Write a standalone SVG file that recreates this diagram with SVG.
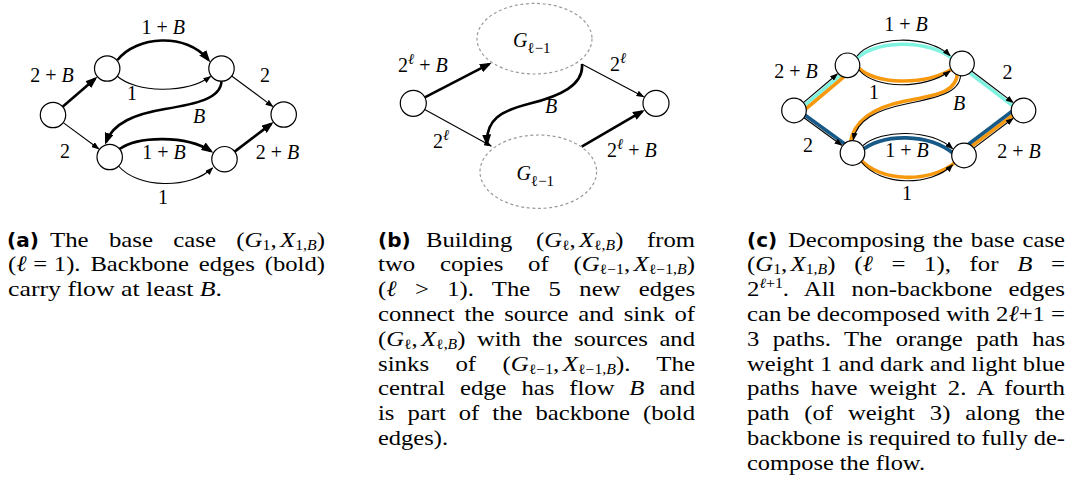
<svg xmlns="http://www.w3.org/2000/svg" width="1075" height="485" viewBox="0 0 1075 485">
<style>
.node{fill:#fff;stroke:#000;stroke-width:1.2}
.e{fill:none;stroke:#000;stroke-width:1.1}
.eb{fill:none;stroke:#000;stroke-width:2.6}
.ell{fill:none;stroke:#9a9a9a;stroke-width:1.2;stroke-dasharray:3 2.6}
.hl{fill:none;stroke-width:3.6}
.cy{stroke:#7ff2e0}
.or{stroke:#f7990f}
.db{stroke:#175a87}
.lbl{font-family:"Liberation Serif","Times New Roman",serif;font-size:20px;fill:#000}
.cap{font-family:"Liberation Serif","Times New Roman",serif;font-size:22px;fill:#000}
.tag{font-family:"DejaVu Sans",sans-serif;font-size:20px;font-weight:bold;fill:#000}
.i{font-style:italic}
.s{font-size:14px}
.ss{font-size:15px}
</style>
<defs>
<marker id="ab" viewBox="0 0 12 9" refX="9" refY="4.5" markerWidth="12" markerHeight="9" markerUnits="userSpaceOnUse" orient="auto"><path d="M0,0 L12,4.5 L0,9 z" fill="#000"/></marker>
<marker id="at" viewBox="0 0 8 6" refX="7" refY="3" markerWidth="8" markerHeight="6" markerUnits="userSpaceOnUse" orient="auto"><path d="M0,0 L8,3 L0,6 z" fill="#000"/></marker>
</defs>

<g id="connectors">
<!-- (a) -->
<path class="eb" d="M62.6,106.7 L95.1,78.8" marker-end="url(#ab)"/>
<path class="e" d="M63.2,122.6 L98.7,148.8" marker-end="url(#at)"/>
<path class="eb" d="M117.5,60 C136,36 186,32 208.4,59.8" marker-end="url(#ab)"/>
<path class="e" d="M117,76 C136,93 186,94 210.5,76.5" marker-end="url(#at)"/>
<path class="eb" d="M221.5,81 C221,99 195,104 165,109 C135,114 113,123 106.1,142" marker-end="url(#ab)"/>
<path class="e" d="M231.7,76 L272.7,106.4" marker-end="url(#at)"/>
<path class="eb" d="M119.5,149 C138,136 186,135 210.8,151.1" marker-end="url(#ab)"/>
<path class="e" d="M118.5,166 C137,188 190,190 212.5,168" marker-end="url(#at)"/>
<path class="eb" d="M234.6,151.6 L271.2,123.9" marker-end="url(#ab)"/>

<!-- (b) -->
<path class="eb" d="M424.8,97.3 L489,64.1" marker-end="url(#ab)"/>
<path class="e" d="M424.7,109.5 L491.1,146" marker-end="url(#at)"/>
<path class="e" d="M581.7,64 L643.6,96.7" marker-end="url(#at)"/>
<path class="eb" d="M581.7,146.7 L642.2,111.4" marker-end="url(#ab)"/>
<path class="eb" d="M582,64 C584,85 560,96 530,103.5 C500,111 486,120 487,143.5" marker-end="url(#ab)"/>

<!-- (c) highlights -->
<path class="hl cy" d="M795.8,112.6 L849.3,67.6"/>
<path class="hl or" d="M798.1,115.3 L851.6,70.3"/>
<path class="hl db" d="M795.6,108.2 L854.1,150.7"/>
<path class="hl cy" d="M855,60.5 C871,40 929,38 953.5,59.5"/>
<path class="hl or" d="M857,66.5 C874,85.5 926,85.5 953,68.5"/>
<path class="hl cy" d="M960.3,65.7 L1021.8,112.7"/>
<path class="hl or" d="M957.5,72 C957,93 935.4,95.1 905.4,101.1 C875.4,107.1 854,119.5 850.3,143"/>
<path class="hl db" d="M861,151 C883,133 929,133 954,154"/>
<path class="hl or" d="M859.5,158.5 C879,182.5 931,183.5 955.5,162"/>
<path class="hl or" d="M962.3,153.3 L1021.8,108.3"/>
<path class="hl db" d="M960.2,150.5 L1019.7,105.5"/>
<!-- (c) edges -->
<path class="e" d="M803.4,102.6 L837.3,74" marker-end="url(#at)"/>
<path class="e" d="M804,117.7 L841.7,145.2" marker-end="url(#at)"/>
<path class="e" d="M857,56 C872,36 928,34 950,55.5" marker-end="url(#at)"/>
<path class="e" d="M859,70 C875,89.5 925,89.5 950,71" marker-end="url(#at)"/>
<path class="e" d="M971.7,71 L1013,102.4" marker-end="url(#at)"/>
<path class="e" d="M960.5,75.5 C960,93 936,98 906,104 C876,110 857,120 853.3,139.8" marker-end="url(#at)"/>
<path class="e" d="M863,145.5 C882,129 930,129 952.5,148.5" marker-end="url(#at)"/>
<path class="e" d="M861.5,162 C880,186 930,187 952.5,165" marker-end="url(#at)"/>
<path class="e" d="M973.8,148.1 L1012.9,118.5" marker-end="url(#at)"/>
</g>

<g id="edge-labels">
<text class="lbl" x="163.3" y="33.5" text-anchor="middle">1 + <tspan class="i">B</tspan></text>
<text class="lbl" x="52" y="82" text-anchor="middle">2 + <tspan class="i">B</tspan></text>
<text class="lbl" x="132" y="100" text-anchor="middle">1</text>
<text class="lbl" x="265" y="82" text-anchor="middle">2</text>
<text class="lbl i" x="199" y="123" text-anchor="middle">B</text>
<text class="lbl" x="65" y="157.5" text-anchor="middle">2</text>
<text class="lbl" x="164" y="159" text-anchor="middle">1 + <tspan class="i">B</tspan></text>
<text class="lbl" x="277.5" y="159" text-anchor="middle">2 + <tspan class="i">B</tspan></text>
<text class="lbl" x="163" y="204" text-anchor="middle">1</text>

<text class="lbl" x="398" y="71.7">2<tspan class="ss i" dy="-8">ℓ</tspan><tspan dy="8"> + </tspan><tspan class="i">B</tspan></text>
<text class="lbl" x="610" y="70.7">2<tspan class="ss i" dy="-8">ℓ</tspan></text>
<text class="lbl i" x="551" y="113" text-anchor="middle">B</text>
<text class="lbl" x="433" y="148.3">2<tspan class="ss i" dy="-8">ℓ</tspan></text>
<text class="lbl" x="607" y="156.7">2<tspan class="ss i" dy="-8">ℓ</tspan><tspan dy="8"> + </tspan><tspan class="i">B</tspan></text>

<text class="lbl" x="906" y="31" text-anchor="middle">1 + <tspan class="i">B</tspan></text>
<text class="lbl" x="796" y="78" text-anchor="middle">2 + <tspan class="i">B</tspan></text>
<text class="lbl" x="874" y="98.5" text-anchor="middle">1</text>
<text class="lbl" x="1007.5" y="79" text-anchor="middle">2</text>
<text class="lbl i" x="959" y="110" text-anchor="middle">B</text>
<text class="lbl" x="808" y="152" text-anchor="middle">2</text>
<text class="lbl" x="907" y="157" text-anchor="middle">1 + <tspan class="i">B</tspan></text>
<text class="lbl" x="1019" y="157.5" text-anchor="middle">2 + <tspan class="i">B</tspan></text>
<text class="lbl" x="907" y="200" text-anchor="middle">1</text>
</g>

<g id="nodes-a">
<g id="a-s"><circle class="node" cx="53" cy="115" r="12.7"/></g>
<g id="a-u1"><circle class="node" cx="107.2" cy="68.5" r="12.7"/></g>
<g id="a-u2"><circle class="node" cx="221.5" cy="68.5" r="12.7"/></g>
<g id="a-t"><circle class="node" cx="283.7" cy="114.5" r="12.7"/></g>
<g id="a-l1"><circle class="node" cx="109.7" cy="157" r="12.7"/></g>
<g id="a-l2"><circle class="node" cx="224.5" cy="159.2" r="12.7"/></g>
</g>

<g id="nodes-b">
<g id="b-s"><circle class="node" cx="413.3" cy="103.3" r="13"/></g>
<g id="b-t"><circle class="node" cx="656" cy="103.3" r="13"/></g>
<g id="b-g1"><ellipse class="ell" cx="534.5" cy="38.7" rx="57.5" ry="35.3"/><text class="lbl" x="513" y="47"><tspan class="i">G</tspan><tspan class="ss" dy="5.5">ℓ−1</tspan></text></g>
<g id="b-g2"><ellipse class="ell" cx="538.3" cy="171.7" rx="58.3" ry="36.7"/><text class="lbl" x="516.5" y="180"><tspan class="i">G</tspan><tspan class="ss" dy="5.5">ℓ−1</tspan></text></g>
</g>

<g id="nodes-c">
<g id="c-s"><circle class="node" cx="794" cy="110.5" r="12.3"/></g>
<g id="c-u1"><circle class="node" cx="847.5" cy="65.3" r="12.3"/></g>
<g id="c-u2"><circle class="node" cx="962" cy="63.5" r="12.3"/></g>
<g id="c-t"><circle class="node" cx="1023.5" cy="110.5" r="12.3"/></g>
<g id="c-l1"><circle class="node" cx="852.5" cy="153" r="12.3"/></g>
<g id="c-l2"><circle class="node" cx="964" cy="155.5" r="12.3"/></g>
</g>

<g id="caption-a">
<text class="tag" x="7" y="246.5">(a)</text>
<text class="cap" x="50" y="246.5" textLength="275" lengthAdjust="spacingAndGlyphs" word-spacing="12.5">The base case (<tspan class="i">G</tspan><tspan class="s" dy="3">1</tspan><tspan dy="-3">,</tspan><tspan class="i" dx="3">X</tspan><tspan class="s" dy="3">1,</tspan><tspan class="s i">B</tspan><tspan dy="-3">)</tspan></text>
<text class="cap" x="8" y="271.3" textLength="317" lengthAdjust="spacingAndGlyphs" word-spacing="3.3">(<tspan class="i">ℓ</tspan><tspan dx="6">=</tspan><tspan dx="6">1).</tspan> Backbone edges (bold)</text>
<text class="cap" x="8" y="296.1" textLength="214" lengthAdjust="spacingAndGlyphs">carry flow at least <tspan class="i">B</tspan>.</text>
</g>

<g id="caption-b">
<text class="tag" x="378" y="246.5">(b)</text>
<text class="cap" x="426" y="246.5" textLength="269" lengthAdjust="spacingAndGlyphs" word-spacing="15.7">Building (<tspan class="i">G</tspan><tspan class="s" dy="3">ℓ</tspan><tspan dy="-3">,</tspan><tspan class="i" dx="3">X</tspan><tspan class="s" dy="3">ℓ,</tspan><tspan class="s i">B</tspan><tspan dy="-3">)</tspan> from</text>
<text class="cap" x="378" y="271.3" textLength="317" lengthAdjust="spacingAndGlyphs" word-spacing="16.4">two copies of (<tspan class="i">G</tspan><tspan class="s" dy="3">ℓ−1</tspan><tspan dy="-3">,</tspan><tspan class="i" dx="3">X</tspan><tspan class="s" dy="3">ℓ−1,</tspan><tspan class="s i">B</tspan><tspan dy="-3">)</tspan></text>
<text class="cap" x="378" y="296.1" textLength="317" lengthAdjust="spacingAndGlyphs" word-spacing="10.9">(<tspan class="i">ℓ</tspan> &gt; 1). The 5 new edges</text>
<text class="cap" x="378" y="320.9" textLength="317" lengthAdjust="spacingAndGlyphs" word-spacing="3.2">connect the source and sink of</text>
<text class="cap" x="378" y="345.7" textLength="317" lengthAdjust="spacingAndGlyphs" word-spacing="4.8">(<tspan class="i">G</tspan><tspan class="s" dy="3">ℓ</tspan><tspan dy="-3">,</tspan><tspan class="i" dx="3">X</tspan><tspan class="s" dy="3">ℓ,</tspan><tspan class="s i">B</tspan><tspan dy="-3">)</tspan> with the sources and</text>
<text class="cap" x="378" y="370.5" textLength="317" lengthAdjust="spacingAndGlyphs" word-spacing="17.8">sinks of (<tspan class="i">G</tspan><tspan class="s" dy="3">ℓ−1</tspan><tspan dy="-3">,</tspan><tspan class="i" dx="3">X</tspan><tspan class="s" dy="3">ℓ−1,</tspan><tspan class="s i">B</tspan><tspan dy="-3">).</tspan> The</text>
<text class="cap" x="378" y="395.3" textLength="317" lengthAdjust="spacingAndGlyphs" word-spacing="7.8">central edge has flow <tspan class="i">B</tspan> and</text>
<text class="cap" x="378" y="420.1" textLength="317" lengthAdjust="spacingAndGlyphs" word-spacing="6.1">is part of the backbone (bold</text>
<text class="cap" x="378" y="444.9" textLength="70" lengthAdjust="spacingAndGlyphs">edges).</text>
</g>

<g id="caption-c">
<text class="tag" x="747" y="246.5">(c)</text>
<text class="cap" x="788" y="246.5" textLength="277" lengthAdjust="spacingAndGlyphs" word-spacing="1.6">Decomposing the base case</text>
<text class="cap" x="747" y="271.3" textLength="318" lengthAdjust="spacingAndGlyphs" word-spacing="11.1">(<tspan class="i">G</tspan><tspan class="s" dy="3">1</tspan><tspan dy="-3">,</tspan><tspan class="i" dx="3">X</tspan><tspan class="s" dy="3">1,</tspan><tspan class="s i">B</tspan><tspan dy="-3">)</tspan> (<tspan class="i">ℓ</tspan> = 1), for <tspan class="i">B</tspan> =</text>
<text class="cap" x="747" y="296.1" textLength="318" lengthAdjust="spacingAndGlyphs" word-spacing="8.7">2<tspan class="s" dy="-8"><tspan class="i">ℓ</tspan>+1</tspan><tspan dy="8">.</tspan> All non-backbone edges</text>
<text class="cap" x="747" y="320.9" textLength="318" lengthAdjust="spacingAndGlyphs">can be decomposed with 2<tspan class="i">ℓ</tspan>+1 =</text>
<text class="cap" x="747" y="345.7" textLength="318" lengthAdjust="spacingAndGlyphs" word-spacing="6.5">3 paths. The orange path has</text>
<text class="cap" x="747" y="370.5" textLength="318" lengthAdjust="spacingAndGlyphs">weight 1 and dark and light blue</text>
<text class="cap" x="747" y="395.3" textLength="318" lengthAdjust="spacingAndGlyphs" word-spacing="4.5">paths have weight 2. A fourth</text>
<text class="cap" x="747" y="420.1" textLength="318" lengthAdjust="spacingAndGlyphs" word-spacing="7.8">path (of weight 3) along the</text>
<text class="cap" x="747" y="444.9" textLength="318" lengthAdjust="spacingAndGlyphs">backbone is required to fully de-</text>
<text class="cap" x="747" y="469.7" textLength="178" lengthAdjust="spacingAndGlyphs">compose the flow.</text>
</g>
</svg>
